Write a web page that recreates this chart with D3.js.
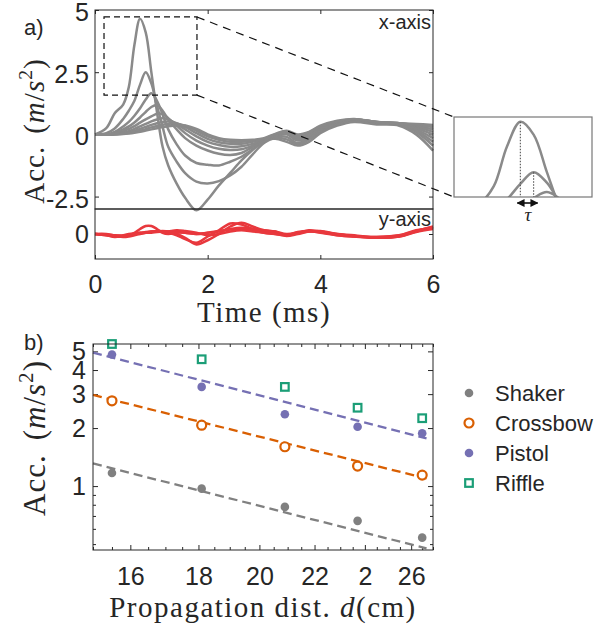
<!DOCTYPE html>
<html>
<head>
<meta charset="utf-8">
<script src="https://cdn.jsdelivr.net/npm/d3@7"></script>
<style>
  body { margin: 0; background: #fff; }
  text { font-family: "Liberation Sans", Arial, sans-serif; fill: #262626; }
  .serif { font-family: "Liberation Serif", "Times New Roman", serif; }
</style>
</head>
<body>
<div id="chart"></div>
<script>
// ---- data: panel a (time traces) ----
var time = [0, 0.2, 0.35, 0.5, 0.6, 0.7, 0.8, 0.9, 1.0, 1.1, 1.2, 1.3, 1.45, 1.6, 1.8, 2.0,
  2.2, 2.4, 2.6, 2.8, 3.0, 3.2, 3.4, 3.6, 3.8, 4.0, 4.3, 4.6, 5.0, 5.4, 5.7, 6.0];

var xTraces = [
  [0, 0.25, 0.85, 1.2, 1.9, 3.6, 4.65, 4.1, 2.5, 0.9, -0.5, -1.25, -1.98, -2.55, -3.05, -2.62, -2.05, -1.55, -1.05, -0.62, -0.25, -0.18, -0.3, -0.45, -0.3, 0.05, 0.35, 0.5, 0.4, 0.35, 0.0, -0.65],
  [0, 0.05, 0.24, 0.62, 0.95, 1.35, 2.0, 2.5, 2.05, 1.15, 0.3, -0.5, -1.1, -1.56, -1.9, -1.97, -1.88, -1.65, -1.3, -0.8, -0.35, -0.15, -0.2, -0.4, -0.2, 0.1, 0.4, 0.55, 0.45, 0.4, 0.1, -0.45],
  [0, 0, 0.1, 0.32, 0.5, 0.75, 1.05, 1.4, 1.65, 1.35, 0.8, 0.2, -0.4, -0.85, -1.15, -1.22, -1.25, -1.1, -0.9, -0.6, -0.3, -0.1, -0.1, -0.35, -0.15, 0.15, 0.4, 0.55, 0.45, 0.4, 0.15, -0.3],
  [0, 0, 0.05, 0.2, 0.32, 0.48, 0.68, 0.9, 1.1, 1.18, 0.95, 0.6, 0.2, -0.15, -0.45, -0.65, -0.78, -0.83, -0.75, -0.5, -0.25, -0.05, 0.0, -0.25, -0.1, 0.2, 0.45, 0.55, 0.45, 0.42, 0.2, -0.15],
  [0, 0, 0.02, 0.12, 0.22, 0.33, 0.47, 0.6, 0.72, 0.83, 0.82, 0.65, 0.35, 0.05, -0.25, -0.45, -0.58, -0.63, -0.6, -0.45, -0.25, -0.05, 0.05, -0.2, -0.05, 0.25, 0.45, 0.55, 0.45, 0.42, 0.25, 0.0],
  [0, 0, 0, 0.07, 0.13, 0.22, 0.32, 0.42, 0.52, 0.6, 0.65, 0.6, 0.42, 0.2, -0.08, -0.3, -0.43, -0.5, -0.48, -0.38, -0.22, -0.05, 0.08, -0.15, 0.0, 0.3, 0.5, 0.6, 0.5, 0.45, 0.3, 0.1],
  [0, 0, 0, 0.04, 0.08, 0.14, 0.22, 0.3, 0.38, 0.45, 0.5, 0.52, 0.45, 0.3, 0.05, -0.18, -0.32, -0.38, -0.38, -0.3, -0.2, -0.02, 0.1, -0.1, 0.05, 0.3, 0.5, 0.6, 0.5, 0.45, 0.35, 0.2],
  [0, 0, 0, 0.02, 0.05, 0.09, 0.15, 0.21, 0.28, 0.34, 0.39, 0.42, 0.43, 0.35, 0.15, -0.08, -0.22, -0.3, -0.3, -0.25, -0.18, 0.0, 0.12, -0.05, 0.08, 0.32, 0.52, 0.6, 0.5, 0.45, 0.38, 0.3],
  [0, 0, 0, 0.01, 0.03, 0.06, 0.1, 0.15, 0.2, 0.25, 0.3, 0.33, 0.36, 0.36, 0.22, 0.0, -0.15, -0.22, -0.24, -0.22, -0.15, 0.02, 0.15, 0.0, 0.1, 0.35, 0.55, 0.62, 0.5, 0.45, 0.42, 0.38]
];

var yTraces = [
  [0, -0.05, -0.1, -0.1, -0.05, 0.05, 0.2, 0.32, 0.32, 0.2, 0.05, 0.0, 0.05, 0.05, 0.0, 0.05, 0.1, 0.2, 0.25, 0.2, 0.15, 0.1, 0.0, 0.05, 0.15, 0.1, 0.0, -0.05, -0.15, -0.1, 0.1, 0.25],
  [0, -0.05, -0.12, -0.08, -0.05, 0.0, 0.05, 0.05, 0.05, 0.08, 0.1, 0.1, 0.0, -0.15, -0.42, -0.25, 0.0, 0.3, 0.45, 0.3, 0.15, 0.1, -0.05, 0.05, 0.12, 0.1, -0.02, -0.08, -0.15, -0.08, 0.12, 0.28],
  [0, -0.03, -0.08, -0.12, -0.1, -0.05, 0.0, 0.05, 0.1, 0.12, 0.1, 0.05, -0.05, -0.2, -0.35, -0.1, 0.15, 0.42, 0.38, 0.2, 0.1, 0.05, -0.05, 0.05, 0.1, 0.08, -0.05, -0.1, -0.12, -0.05, 0.15, 0.22],
  [0, 0, -0.05, -0.05, 0, 0.03, 0.05, 0.08, 0.1, 0.1, 0.12, 0.1, 0.08, 0.05, 0, 0.05, 0.12, 0.18, 0.2, 0.15, 0.05, 0, -0.05, 0.08, 0.12, 0.05, -0.05, -0.1, -0.15, -0.1, 0.08, 0.2],
  [0, -0.02, -0.05, -0.08, -0.05, 0, 0.02, 0.05, 0.08, 0.1, 0.08, 0.1, 0.15, 0.12, 0.05, -0.05, 0, 0.1, 0.15, 0.1, 0.05, 0, -0.08, 0, 0.1, 0.12, 0, -0.08, -0.12, -0.05, 0.12, 0.3]
];

var timeTicks = [0, 2, 4, 6];
var accTicks = [-2.5, 0, 2.5, 5];
var zoomBox = { t: [0.16, 1.81], acc: [1.58, 4.72] };   // dashed rectangle
var insetDomain = { t: [0.30, 1.34], acc: [1.44, 4.85] };
var peakTimes = [0.8, 0.9];                              // tau markers

// ---- data: panel b (attenuation) ----
var dist = [15.5, 18.1, 20.9, 23.7, 26.5];
var shaker = [1.17, 0.97, 0.78, 0.66, 0.54];
var crossbow = [2.77, 2.07, 1.60, 1.27, 1.14];
var pistol = [4.82, 3.27, 2.36, 2.03, 1.88];
var riffle = [5.46, 4.55, 3.27, 2.55, 2.25];
// power-law fits: value at d = 15 cm, exponent
var shakerFit = [1.31, -1.76];
var crossbowFit = [2.97, -1.73];
var pistolFit = [4.93, -1.78];
var fitRange = [15, 26.7];

var distTicks = [16, 18, 20, 22, 24, 26];
var distLabels = ["16", "18", "20", "22", "2", "26"];
var accLogTicks = [1, 2, 3, 4, 5];
var accLogMinor = [0.5, 0.6, 0.7, 0.8, 0.9];

var colors = { shaker: "#808080", crossbow: "#d95f02", pistol: "#7570b3", riffle: "#1b9e77" };

var width = 608, height = 628;
var svg = d3.select("#chart").append("svg")
  .attr("width", width)
  .attr("height", height);

svg.append("rect").attr("width", width).attr("height", height).attr("fill", "#fff");
var defs = svg.append("defs");

var plain = d => String(d);

function styleTicks(g) {
  g.selectAll(".domain").remove();
  g.selectAll(".tick line").attr("stroke", "#262626");
  g.selectAll(".tick text").attr("font-size", 25).attr("fill", "#262626")
    .style("font-family", "'Liberation Sans', Arial, sans-serif");
}

// ================= panel a =================
var xA = d3.scaleLinear().domain([0, 6]).range([95, 433]);
var yA = d3.scaleLinear().domain([-3, 5]).range([209, 10]);
var yY = d3.scaleLinear().domain([-1, 1]).range([259, 209]);

function traceLine(x, y) {
  return d3.line()
    .x((d, i) => x(time[i]))
    .y(d => y(d))
    .curve(d3.curveCatmullRom.alpha(0.5));
}

var gA = svg.append("g");

// ticks (inward, MATLAB style)
var yAxisA = gA.append("g").attr("transform", "translate(95,0)")
  .call(d3.axisLeft(yA).tickValues(accTicks).tickFormat(plain).tickSizeInner(-4).tickSizeOuter(0).tickPadding(6));
gA.append("g").attr("transform", "translate(433,0)")
  .call(d3.axisRight(yA).tickValues(accTicks).tickFormat("").tickSizeInner(-4).tickSizeOuter(0));
gA.append("g").attr("transform", "translate(0,10)")
  .call(d3.axisTop(xA).tickValues(timeTicks).tickFormat("").tickSizeInner(-4).tickSizeOuter(0));
gA.append("g").attr("transform", "translate(95,0)")
  .call(d3.axisLeft(yY).tickValues([0]).tickFormat(plain).tickSizeInner(-4).tickSizeOuter(0).tickPadding(6));
gA.append("g").attr("transform", "translate(433,0)")
  .call(d3.axisRight(yY).tickValues([0]).tickFormat("").tickSizeInner(-4).tickSizeOuter(0));
gA.append("g").attr("transform", "translate(0,259)")
  .call(d3.axisBottom(xA).tickValues(timeTicks).tickFormat(plain).tickSizeInner(-4).tickSizeOuter(0).tickPadding(16));
styleTicks(gA);
yAxisA.selectAll(".tick text").attr("y", 2.5);

// traces
gA.append("g").selectAll("path")
  .data(xTraces)
  .join("path")
  .attr("d", traceLine(xA, yA))
  .attr("fill", "none")
  .attr("stroke", "#8a8a8a")
  .attr("stroke-width", 2.5)
  .attr("stroke-linejoin", "round");

gA.append("g").selectAll("path")
  .data(yTraces)
  .join("path")
  .attr("d", traceLine(xA, yY))
  .attr("fill", "none")
  .attr("stroke", "#e8383d")
  .attr("stroke-width", 2.5)
  .attr("stroke-linejoin", "round");

// frames
gA.append("rect").attr("x", 95).attr("y", 10).attr("width", 338).attr("height", 199)
  .attr("fill", "none").attr("stroke", "#262626");
gA.append("rect").attr("x", 95).attr("y", 209).attr("width", 338).attr("height", 50)
  .attr("fill", "none").attr("stroke", "#262626");

gA.append("text").attr("x", 431).attr("y", 29).attr("text-anchor", "end").attr("font-size", 20).text("x-axis");
gA.append("text").attr("x", 431).attr("y", 226).attr("text-anchor", "end").attr("font-size", 20).text("y-axis");
gA.append("text").attr("x", 24).attr("y", 35).attr("font-size", 22).text("a)");

// zoom box + connectors
var bx0 = xA(zoomBox.t[0]), bx1 = xA(zoomBox.t[1]);
var by0 = yA(zoomBox.acc[1]), by1 = yA(zoomBox.acc[0]);
var inset = { x: 454, y: 117, w: 138, h: 80 };

gA.append("rect").attr("x", bx0).attr("y", by0).attr("width", bx1 - bx0).attr("height", by1 - by0)
  .attr("fill", "none").attr("stroke", "#111").attr("stroke-width", 1.2).attr("stroke-dasharray", "6,4");
gA.append("line").attr("x1", bx1).attr("y1", by0).attr("x2", inset.x).attr("y2", inset.y)
  .attr("stroke", "#111").attr("stroke-width", 1.2).attr("stroke-dasharray", "8,6");
gA.append("line").attr("x1", bx1).attr("y1", by1).attr("x2", inset.x).attr("y2", inset.y + inset.h)
  .attr("stroke", "#111").attr("stroke-width", 1.2).attr("stroke-dasharray", "8,6");

// inset
var xI = d3.scaleLinear().domain(insetDomain.t).range([inset.x, inset.x + inset.w]);
var yI = d3.scaleLinear().domain(insetDomain.acc).range([inset.y + inset.h, inset.y]);

defs.append("clipPath").attr("id", "insetClip")
  .append("rect").attr("x", inset.x).attr("y", inset.y).attr("width", inset.w).attr("height", inset.h);

var gI = svg.append("g");
gI.append("rect").attr("x", inset.x).attr("y", inset.y).attr("width", inset.w).attr("height", inset.h)
  .attr("fill", "#fff");
gI.append("g").attr("clip-path", "url(#insetClip)").selectAll("path")
  .data(xTraces.slice(0, 3))
  .join("path")
  .attr("d", traceLine(xI, yI))
  .attr("fill", "none")
  .attr("stroke", "#8a8a8a")
  .attr("stroke-width", 2.5)
  .attr("stroke-linejoin", "round");

gI.selectAll("line.tau")
  .data(peakTimes)
  .join("line")
  .attr("class", "tau")
  .attr("x1", d => xI(d)).attr("x2", d => xI(d))
  .attr("y1", (d, i) => yI(d3.max(xTraces[i]))).attr("y2", inset.y + inset.h)
  .attr("stroke", "#555").attr("stroke-width", 1.1).attr("stroke-dasharray", "1.5,1.5");

gI.append("rect").attr("x", inset.x).attr("y", inset.y).attr("width", inset.w).attr("height", inset.h)
  .attr("fill", "none").attr("stroke", "#777").attr("stroke-width", 1.2);

defs.append("marker").attr("id", "arrowHead")
  .attr("viewBox", "0 -5 10 10").attr("refX", 9).attr("refY", 0)
  .attr("markerWidth", 5).attr("markerHeight", 5).attr("orient", "auto-start-reverse")
  .append("path").attr("d", "M0,-5L10,0L0,5Z").attr("fill", "#111");

gI.append("line")
  .attr("x1", xI(peakTimes[0]) - 3).attr("x2", xI(peakTimes[1]) + 4)
  .attr("y1", 203).attr("y2", 203)
  .attr("stroke", "#111").attr("stroke-width", 1.6)
  .attr("marker-start", "url(#arrowHead)").attr("marker-end", "url(#arrowHead)");
gI.append("text").attr("class", "serif")
  .attr("x", (xI(peakTimes[0]) + xI(peakTimes[1])) / 2 + 1).attr("y", 221)
  .attr("text-anchor", "middle").attr("font-size", 19).attr("font-style", "italic").text("τ");

// axis titles panel a
gA.append("text").attr("class", "serif").attr("x", 264).attr("y", 322)
  .attr("text-anchor", "middle").attr("font-size", 29).attr("letter-spacing", 1.5).text("Time (ms)");

function accLabel(g, cx, cy, fs, gap, spacing) {
  var t = g.append("text").attr("class", "serif")
    .attr("transform", "translate(" + cx + "," + cy + ") rotate(-90)")
    .attr("text-anchor", "middle").attr("font-size", fs).attr("letter-spacing", spacing);
  t.append("tspan").text("Acc.");
  t.append("tspan").attr("dx", gap).text("(");
  t.append("tspan").attr("font-style", "italic").text("m");
  t.append("tspan").text("/");
  t.append("tspan").attr("font-style", "italic").text("s");
  t.append("tspan").attr("dy", -fs * 0.4).attr("font-size", fs * 0.68).text("2");
  t.append("tspan").attr("dy", fs * 0.4).text(")");
}
accLabel(gA, 44, 131, 29, 12, 1);

// ================= panel b =================
var xB = d3.scaleLog().domain([15, 27]).range([93, 433]);
var yB = d3.scaleLog().domain([0.466, 5.46]).range([550, 344]);

var gB = svg.append("g");

var distMinor = d3.range(15, 27.01, 0.5).filter(d => distTicks.indexOf(d) < 0);

gB.append("g").attr("transform", "translate(0,550)")
  .call(d3.axisBottom(xB).tickValues(distTicks).tickFormat((d, i) => distLabels[i])
    .tickSizeInner(-5).tickSizeOuter(0).tickPadding(17));
gB.append("g").attr("transform", "translate(0,550)")
  .call(d3.axisBottom(xB).tickValues(distMinor).tickFormat("").tickSizeInner(-3).tickSizeOuter(0));
gB.append("g").attr("transform", "translate(0,344)")
  .call(d3.axisTop(xB).tickValues(distTicks).tickFormat("").tickSizeInner(-5).tickSizeOuter(0));
gB.append("g").attr("transform", "translate(0,344)")
  .call(d3.axisTop(xB).tickValues(distMinor).tickFormat("").tickSizeInner(-3).tickSizeOuter(0));
gB.append("g").attr("transform", "translate(93,0)")
  .call(d3.axisLeft(yB).tickValues(accLogTicks).tickFormat(plain)
    .tickSizeInner(-5).tickSizeOuter(0).tickPadding(7));
gB.append("g").attr("transform", "translate(93,0)")
  .call(d3.axisLeft(yB).tickValues(accLogMinor).tickFormat("").tickSizeInner(-3).tickSizeOuter(0));
gB.append("g").attr("transform", "translate(433,0)")
  .call(d3.axisRight(yB).tickValues(accLogTicks).tickFormat("").tickSizeInner(-5).tickSizeOuter(0));
gB.append("g").attr("transform", "translate(433,0)")
  .call(d3.axisRight(yB).tickValues(accLogMinor).tickFormat("").tickSizeInner(-3).tickSizeOuter(0));
styleTicks(gB);

// fit lines
var fits = [
  { fit: shakerFit, color: colors.shaker },
  { fit: crossbowFit, color: colors.crossbow },
  { fit: pistolFit, color: colors.pistol }
];
gB.append("g").selectAll("line")
  .data(fits)
  .join("line")
  .attr("x1", xB(fitRange[0]))
  .attr("x2", xB(fitRange[1]))
  .attr("y1", d => yB(d.fit[0] * Math.pow(fitRange[0] / 15, d.fit[1])))
  .attr("y2", d => yB(d.fit[0] * Math.pow(fitRange[1] / 15, d.fit[1])))
  .attr("stroke", d => d.color)
  .attr("stroke-width", 2.3)
  .attr("stroke-dasharray", "9,5");

// markers
gB.append("g").selectAll("circle")
  .data(shaker)
  .join("circle")
  .attr("cx", (d, i) => xB(dist[i])).attr("cy", d => yB(d)).attr("r", 4.3)
  .attr("fill", colors.shaker);
gB.append("g").selectAll("circle")
  .data(crossbow)
  .join("circle")
  .attr("cx", (d, i) => xB(dist[i])).attr("cy", d => yB(d)).attr("r", 4.5)
  .attr("fill", "#fff").attr("stroke", colors.crossbow).attr("stroke-width", 2.2);
gB.append("g").selectAll("circle")
  .data(pistol)
  .join("circle")
  .attr("cx", (d, i) => xB(dist[i])).attr("cy", d => yB(d)).attr("r", 4.3)
  .attr("fill", colors.pistol);
gB.append("g").selectAll("rect")
  .data(riffle)
  .join("rect")
  .attr("x", (d, i) => xB(dist[i]) - 3.8).attr("y", d => yB(d) - 3.8)
  .attr("width", 7.6).attr("height", 7.6)
  .attr("fill", "#fff").attr("stroke", colors.riffle).attr("stroke-width", 2.2);

gB.append("rect").attr("x", 93).attr("y", 344).attr("width", 340).attr("height", 206)
  .attr("fill", "none").attr("stroke", "#262626");

gB.append("text").attr("x", 24).attr("y", 350).attr("font-size", 22).text("b)");

var t2 = gB.append("text").attr("class", "serif").attr("x", 263).attr("y", 617)
  .attr("text-anchor", "middle").attr("font-size", 29).attr("letter-spacing", 1.5);
t2.append("tspan").text("Propagation dist. ");
t2.append("tspan").attr("font-style", "italic").text("d");
t2.append("tspan").text("(cm)");

accLabel(gB, 45, 438, 31, 14, 1);

// legend
var legendItems = [
  { name: "Shaker", color: colors.shaker, type: "dot" },
  { name: "Crossbow", color: colors.crossbow, type: "ring" },
  { name: "Pistol", color: colors.pistol, type: "dot" },
  { name: "Riffle", color: colors.riffle, type: "square" }
];
var leg = gB.append("g").selectAll("g")
  .data(legendItems)
  .join("g")
  .attr("transform", (d, i) => "translate(469," + (393 + i * 30) + ")");
leg.filter(d => d.type === "dot").append("circle").attr("r", 4.3).attr("fill", d => d.color);
leg.filter(d => d.type === "ring").append("circle").attr("r", 4.5)
  .attr("fill", "#fff").attr("stroke", d => d.color).attr("stroke-width", 2.2);
leg.filter(d => d.type === "square").append("rect").attr("x", -3.8).attr("y", -3.8)
  .attr("width", 7.6).attr("height", 7.6)
  .attr("fill", "#fff").attr("stroke", d => d.color).attr("stroke-width", 2.2);
leg.append("text").attr("x", 26).attr("y", 8).attr("font-size", 22).attr("fill", "#111").text(d => d.name);
</script>
</body>
</html>
